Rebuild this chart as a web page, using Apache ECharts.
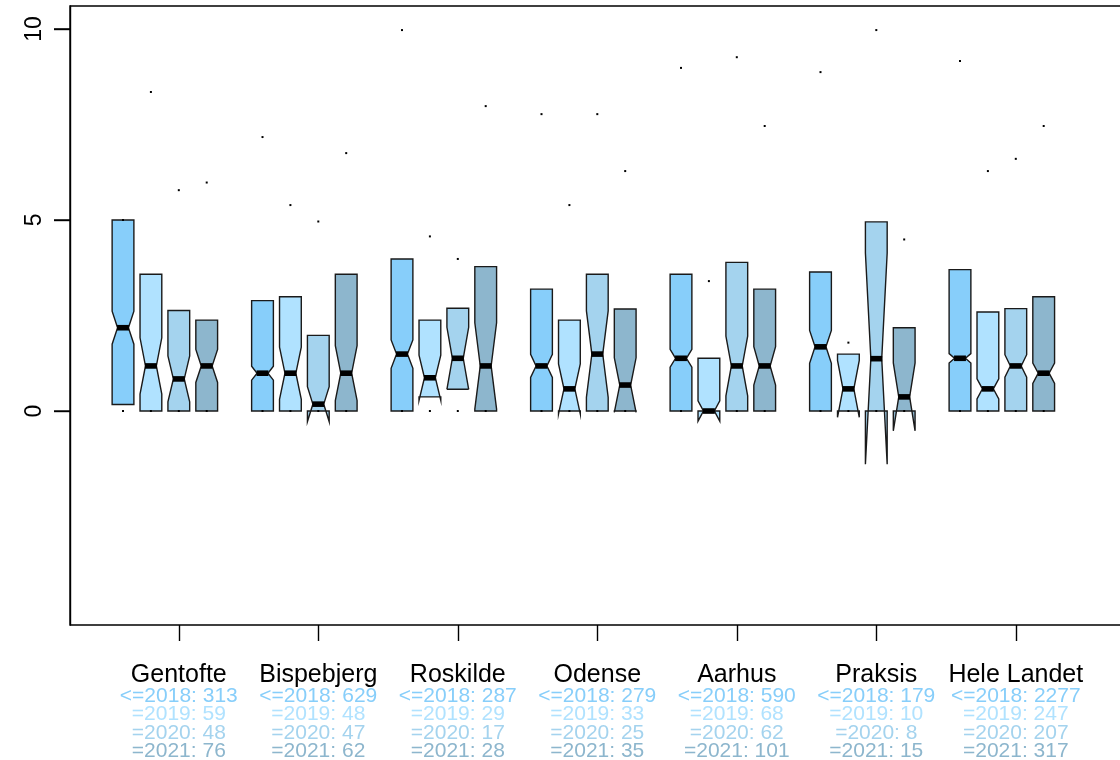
<!DOCTYPE html>
<html>
<head>
<meta charset="utf-8">
<script src="https://cdn.jsdelivr.net/npm/echarts@6/dist/echarts.min.js"></script>
<style>
  html, body { margin: 0; padding: 0; background: #fff; }
  #chart { width: 1120px; height: 760px; }
</style>
</head>
<body>
<div id="chart"></div>
<script>
// Groups (hospitals / practice / whole country) and the four year cohorts
const groups = ['Gentofte', 'Bispebjerg', 'Roskilde', 'Odense', 'Aarhus', 'Praksis', 'Hele Landet'];
const yearLabels = ['<=2018', '=2019', '=2020', '=2021'];
const yearColors = ['#87CEFA', '#B0E2FF', '#A4D3EE', '#8DB6CD'];
const yTicks = [0, 5, 10];

// Box statistics per cohort, one entry per group:
// counts, lower whisker end, lower hinge, median, upper hinge, upper whisker end
const n2018   = [313, 629, 287, 279, 590, 179, 2277];
const lo2018  = [0, 0, 0, 0, 0, 0, 0];
const q1_2018 = [0.17, 0, 0, 0, 0, 0, 0];
const med2018 = [2.18, 0.99, 1.49, 1.18, 1.38, 1.68, 1.38];
const q3_2018 = [5.0, 2.89, 3.98, 3.19, 3.58, 3.64, 3.70];
const hi2018  = [5.0, 7.17, 9.97, 7.77, 8.98, 8.87, 9.16];

const n2019   = [59, 48, 29, 33, 68, 10, 247];
const lo2019  = [0, 0, 0, 0, 0, 0, 0];
const q1_2019 = [0, 0, 0.37, 0, 0, 0, 0];
const med2019 = [1.18, 0.99, 0.87, 0.58, 0, 0.58, 0.58];
const q3_2019 = [3.58, 2.99, 2.38, 2.38, 1.38, 1.49, 2.59];
const hi2019  = [8.35, 5.39, 4.57, 5.39, 3.40, 1.79, 6.28];

const n2020   = [48, 47, 17, 25, 62, 8, 207];
const lo2020  = [0, 0, 0, 0, 0, 0, 0];
const q1_2020 = [0, 0, 0.57, 0, 0, 0, 0];
const med2020 = [0.84, 0.18, 1.38, 1.49, 1.18, 1.37, 1.18];
const q3_2020 = [2.63, 1.98, 2.69, 3.58, 3.89, 4.95, 2.68];
const hi2020  = [5.78, 4.96, 3.98, 7.77, 9.26, 9.97, 6.60];

const n2021   = [76, 62, 28, 35, 101, 15, 317];
const lo2021  = [0, 0, 0, 0, 0, 0, 0];
const q1_2021 = [0, 0, 0, 0, 0, 0, 0];
const med2021 = [1.18, 0.99, 1.18, 0.68, 1.18, 0.37, 0.99];
const q3_2021 = [2.38, 3.58, 3.78, 2.67, 3.19, 2.18, 2.99];
const hi2021  = [5.98, 6.75, 7.98, 6.28, 7.46, 4.49, 7.46];

const cohorts = [
  { n: n2018, lo: lo2018, q1: q1_2018, med: med2018, q3: q3_2018, hi: hi2018 },
  { n: n2019, lo: lo2019, q1: q1_2019, med: med2019, q3: q3_2019, hi: hi2019 },
  { n: n2020, lo: lo2020, q1: q1_2020, med: med2020, q3: q3_2020, hi: hi2020 },
  { n: n2021, lo: lo2021, q1: q1_2021, med: med2021, q3: q3_2021, hi: hi2021 }
];

const X_MIN = -0.9, X_MAX = 36.9;
const Y_MIN = -5.6, Y_MAX = 10.6;
const BOX_WIDTH = 0.78;     // in x-axis units
const NOTCH_FRAC = 0.5;     // notch waist relative to box width
const SLOTS_PER_GROUP = 5;  // four boxes plus one empty slot
const TICK_LEN = 16;
const tickPos = groups.map((g, i) => 3 + SLOTS_PER_GROUP * i);
const FONT = 'Liberation Sans, Arial, sans-serif';

function renderNotchedBox(params, api) {
  const x = api.value(0);
  const lo = api.value(1), q1 = api.value(2), med = api.value(3);
  const q3 = api.value(4), hi = api.value(5), n = api.value(6);
  // McGill notch: median +/- 1.58 * IQR / sqrt(n)
  const half = 1.58 * (q3 - q1) / Math.sqrt(n);
  const c1 = med - half, c2 = med + half;
  const w = api.size([BOX_WIDTH, 0])[0];
  const cx = api.coord([x, 0])[0];
  const Y = v => api.coord([x, v])[1];
  const L = cx - w / 2, R = cx + w / 2;
  const nl = cx - w * NOTCH_FRAC / 2, nr = cx + w * NOTCH_FRAC / 2;
  const pts = [
    [L, Y(q1)], [R, Y(q1)], [R, Y(c1)], [nr, Y(med)], [R, Y(c2)],
    [R, Y(q3)], [L, Y(q3)], [L, Y(c2)], [nl, Y(med)], [L, Y(c1)]
  ];
  const color = api.visual('color');
  return {
    type: 'group',
    children: [
      { type: 'polygon', shape: { points: pts },
        style: { fill: color, stroke: '#1a1a1a', lineWidth: 1.4, lineJoin: 'miter' } },
      { type: 'rect', shape: { x: nl - 0.5, y: Y(med) - 2.8, width: nr - nl + 1, height: 5.6 },
        style: { fill: '#000' } },
      { type: 'rect', shape: { x: cx - 1, y: Y(lo) - 1, width: 2, height: 2 },
        style: { fill: '#000' } },
      { type: 'rect', shape: { x: cx - 1, y: Y(hi) - 1, width: 2, height: 2 },
        style: { fill: '#000' } }
    ]
  };
}

const series = cohorts.map((c, k) => ({
  type: 'custom',
  name: yearLabels[k],
  color: yearColors[k],
  renderItem: renderNotchedBox,
  encode: { x: 0, y: [1, 2, 3, 4, 5] },
  data: groups.map((g, i) => [1 + SLOTS_PER_GROUP * i + k, c.lo[i], c.q1[i], c.med[i], c.q3[i], c.hi[i], c.n[i]]),
  clip: false,
  silent: true
}));

const richLine = (color) => ({ color: color, fontSize: 21, lineHeight: 18.5, align: 'center', fontFamily: FONT });

const chart = echarts.init(document.getElementById('chart'), null, { renderer: 'canvas' });
chart.setOption({
  animation: false,
  backgroundColor: '#fff',
  grid: {
    left: 70, top: 6, width: 1054.6, height: 619,
    outerBoundsMode: 'none', containLabel: false,
    show: true, borderColor: '#000', borderWidth: 1.4, backgroundColor: 'transparent'
  },
  xAxis: {
    type: 'value', min: X_MIN, max: X_MAX,
    axisLine: { show: false, onZero: false },
    splitLine: { show: false },
    axisTick: { show: true, customValues: tickPos, length: TICK_LEN, lineStyle: { color: '#000', width: 1.4 } },
    axisLabel: {
      show: true, customValues: tickPos, margin: 38,
      formatter: (v) => {
        const i = Math.round((v - 3) / SLOTS_PER_GROUP);
        const lines = ['{g|' + groups[i] + '}'];
        cohorts.forEach((c, k) => {
          lines.push('{y' + k + '|' + yearLabels[k] + ': ' + c.n[i] + '}');
        });
        return lines.join('\n');
      },
      rich: {
        g: { color: '#000', fontSize: 25, lineHeight: 23.5, align: 'center', fontFamily: FONT },
        y0: richLine(yearColors[0]),
        y1: richLine(yearColors[1]),
        y2: richLine(yearColors[2]),
        y3: richLine(yearColors[3])
      }
    }
  },
  yAxis: {
    type: 'value', min: Y_MIN, max: Y_MAX,
    axisLine: { show: true, onZero: false, lineStyle: { color: '#000', width: 1.4 } },
    splitLine: { show: false },
    axisTick: { show: true, customValues: yTicks, length: TICK_LEN, lineStyle: { color: '#000', width: 1.4 } },
    axisLabel: {
      show: true, customValues: yTicks, rotate: 90, margin: 24,
      color: '#000', fontSize: 23, fontFamily: FONT
    }
  },
  series: series
});

// Outward tick marks on the left edge of the plot frame, placed through the axis scales
chart.setOption({
  graphic: yTicks.map(v => {
    const p = chart.convertToPixel({ xAxisIndex: 0, yAxisIndex: 0 }, [X_MIN, v]);
    return {
      type: 'line', z: 100, silent: true,
      shape: { x1: p[0] - TICK_LEN, y1: p[1], x2: p[0], y2: p[1] },
      style: { stroke: '#000', lineWidth: 1.4 }
    };
  })
});
</script>
</body>
</html>
